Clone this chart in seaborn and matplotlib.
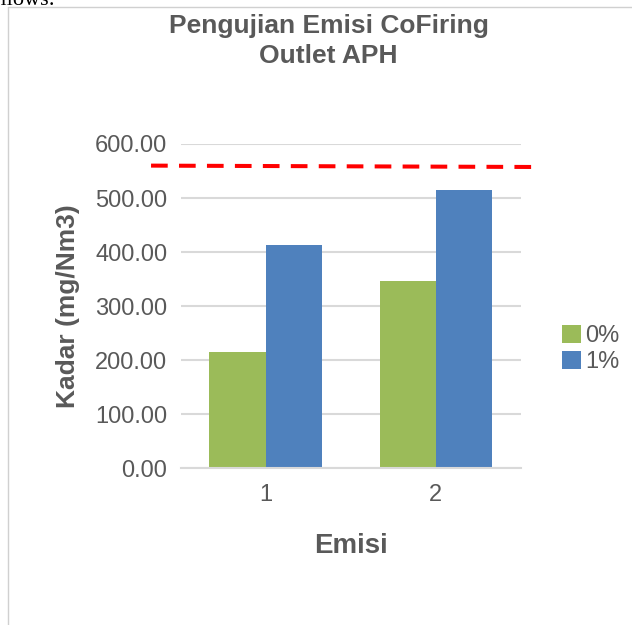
import matplotlib
matplotlib.use("Agg")
import matplotlib.pyplot as plt
from matplotlib.lines import Line2D
import seaborn as sns
import pandas as pd

# ---- data ----
categories = ["1", "2"]
series_names = ["0%", "1%"]
values_0 = [215, 346]
values_1 = [413, 514]
limit_x = [-0.673, 1.562]
limit_y = [560, 557.5]
y_ticks = [0, 100, 200, 300, 400, 500, 600]
title_lines = ["Pengujian Emisi CoFiring", "Outlet APH"]
x_label = "Emisi"
y_label = "Kadar (mg/Nm3)"

colors = ["#9BBB59", "#4F81BD"]
text_color = "#595959"
grid_color = "#D9D9D9"

df = pd.DataFrame({
    "Emisi": categories * 2,
    "Seri": [series_names[0]] * len(categories) + [series_names[1]] * len(categories),
    "Kadar": values_0 + values_1,
})

sns.set_theme(style="white")
plt.rcParams["font.family"] = ["Liberation Sans", "DejaVu Sans"]

W, H = 632, 625
fig = plt.figure(figsize=(W / 100, H / 100), dpi=100)
ax = fig.add_axes([180.5 / W, 1 - 468.3 / H, 340.5 / W, 324.3 / H])

sns.barplot(data=df, x="Emisi", y="Kadar", hue="Seri", order=categories,
            hue_order=series_names, palette=colors, width=0.66, saturation=1,
            linewidth=0, ax=ax, legend=True, errorbar=None)

ax.set_ylim(0, 600)
ax.set_xlim(-0.5, 1.5)
ax.set_yticks(y_ticks)
ax.set_yticklabels([f"{v:.2f}" for v in y_ticks])
ax.yaxis.grid(True, color=grid_color, linewidth=1.5)
ax.set_axisbelow(True)
for s in ["top", "right", "left"]:
    ax.spines[s].set_visible(False)
ax.spines["bottom"].set_color(grid_color)
ax.spines["bottom"].set_linewidth(1.5)
ax.tick_params(axis="both", length=0, labelsize=17, colors=text_color)
ax.tick_params(axis="y", pad=9.5)
ax.tick_params(axis="x", pad=11)

# limit line
ax.plot(limit_x, limit_y, color="#FF0000", linewidth=2.9,
        dashes=(4.14, 2.8), clip_on=False, zorder=5)

ax.set_xlabel(x_label, fontsize=20, fontweight="bold", color=text_color)
ax.set_ylabel(y_label, fontsize=19, fontweight="bold", color=text_color)
ax.xaxis.set_label_coords(0.5, -0.2)
ax.yaxis.set_label_coords(-0.295, 0.5)

leg = ax.legend(loc="center left", bbox_to_anchor=(562 / W, 1 - 349 / H),
                bbox_transform=fig.transFigure, frameon=False, fontsize=17,
                handlelength=0.8, handleheight=0.8, handletextpad=0.2,
                labelspacing=0.17, borderpad=0, borderaxespad=0)
for t in leg.get_texts():
    t.set_color(text_color)

fig.text(328.5 / W, 1 - 33 / H, title_lines[0], ha="center", va="baseline",
         fontsize=19, fontweight="bold", color=text_color)
fig.text(328.5 / W, 1 - 62.7 / H, title_lines[1], ha="center", va="baseline",
         fontsize=19, fontweight="bold", color=text_color)

# frame border of the chart object
fig.add_artist(Line2D([8 / W, 8 / W], [0, 1 - 7 / H], transform=fig.transFigure,
                      color="#D0D0D0", linewidth=1))
fig.add_artist(Line2D([8 / W, 1], [1 - 7 / H, 1 - 7 / H], transform=fig.transFigure,
                      color="#D0D0D0", linewidth=1))
# cropped surrounding document text (cut off at the top edge, as in the reference)
fig.text(55 / W, 1 - 5 / H, "follows:", ha="right", va="baseline",
         fontsize=16, family="Liberation Serif", color="black")

fig.savefig("out.png", dpi=100)
